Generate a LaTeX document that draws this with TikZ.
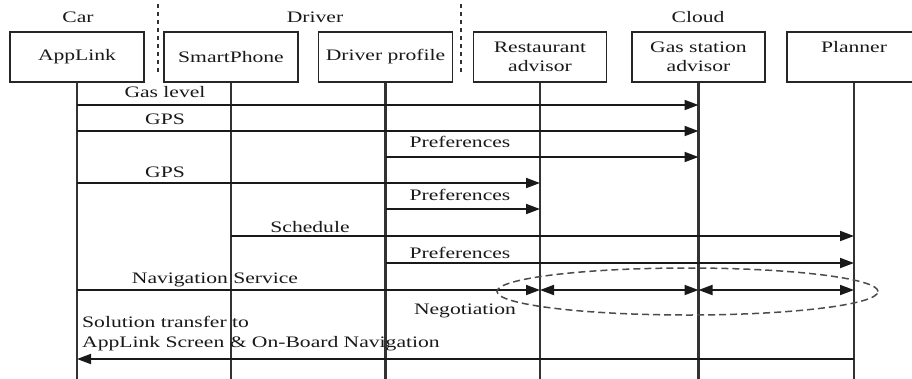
\documentclass[tikz,border=0pt]{standalone}
\usepackage{fontspec}
\setmainfont{Liberation Serif}[FakeStretch=1.35]
\usetikzlibrary{arrows.meta,shapes.geometric}
\begin{document}
\begin{tikzpicture}[x=1pt,y=1pt,
  every node/.style={text=black!90, font=\fontsize{16}{19.5}\selectfont},
  box/.style={draw=black!85, line width=1.6pt, minimum height=50pt, inner sep=0pt, align=center},
  life/.style={draw=black!80, line width=2.1pt},
  msg/.style={draw=black!90, line width=1.8pt, -{Triangle[length=14pt,width=10pt]}},
  dmsg/.style={draw=black!90, line width=1.8pt, {Triangle[length=14pt,width=10pt]}-{Triangle[length=14pt,width=10pt]}},
  sep/.style={draw=black!80, line width=2.4pt, dash pattern=on 4pt off 4pt},
  lbl/.style={anchor=base, inner sep=0pt}]
\clip (0,0) rectangle (912,-378);
\fill[white] (0,0) rectangle (912,-378);

% group labels
\node[lbl] (car) at (78,-22) {Car};
\node[lbl] (drv) at (315,-22) {Driver};
\node[lbl] (cld) at (698,-22) {Cloud};

% separators
\coordinate (s1t) at (158,-4); \coordinate (s1b) at (158,-72);
\coordinate (s2t) at (461,-4); \coordinate (s2b) at (461,-72);
\draw[sep] (s1t) -- (s1b);
\draw[sep] (s2t) -- (s2b);

% boxes
\node[box, minimum width=134pt] (app) at (77,-57) {AppLink};
\node[box, minimum width=134pt] (sp) at (231,-57) {SmartPhone};
\node[box, minimum width=134pt] (dp) at (385.5,-57) {Driver profile};
\node[box, minimum width=133pt] (ra) at (540,-57) {Restaurant\\advisor};
\node[box, minimum width=133pt] (ga) at (698.5,-57) {Gas station\\advisor};
\node[box, minimum width=134pt] (pl) at (854,-57) {Planner\\\phantom{advisor}};

% lifeline ends
\coordinate (appE) at (77,-380);
\coordinate (spE) at (231,-380);
\coordinate (dpE) at (385.5,-380);
\coordinate (raE) at (540,-380);
\coordinate (gaE) at (698.5,-380);
\coordinate (plE) at (854,-380);
\draw[life] (app.south) -- (appE);
\draw[life] (sp.south) -- (spE);
\draw[life] (dp.south) -- (dpE);
\draw[life] (ra.south) -- (raE);
\draw[life] (ga.south) -- (gaE);
\draw[life] (pl.south) -- (plE);

% messages
\node[lbl] (l1) at (165,-97) {Gas level};
\draw[msg] (app |- 0,-105) -- (ga |- 0,-105);
\node[lbl] (l2) at (165,-124) {GPS};
\draw[msg] (app |- 0,-131) -- (ga |- 0,-131);
\node[lbl] (l3) at (460,-147) {Preferences};
\draw[msg] (dp |- 0,-157) -- (ga |- 0,-157);
\node[lbl] (l4) at (165,-177) {GPS};
\draw[msg] (app |- 0,-183) -- (ra |- 0,-183);
\node[lbl] (l5) at (460,-200) {Preferences};
\draw[msg] (dp |- 0,-209) -- (ra |- 0,-209);
\node[lbl] (l6) at (310,-232) {Schedule};
\draw[msg] (sp |- 0,-236) -- (pl |- 0,-236);
\node[lbl] (l7) at (460,-258) {Preferences};
\draw[msg] (dp |- 0,-263) -- (pl |- 0,-263);
\node[lbl] (l8) at (215,-283) {Navigation Service};
\draw[msg] (app |- 0,-290) -- (ra |- 0,-290);
\draw[dmsg] (ra |- 0,-290) -- (ga |- 0,-290);
\draw[dmsg] (ga |- 0,-290) -- (pl |- 0,-290);
\node[draw=black!70, line width=1.5pt, dash pattern=on 7pt off 4pt, ellipse, minimum width=381pt, minimum height=47pt, inner sep=0pt] (neg) at (687.5,-291.5) {};
\node[lbl] (l9) at (465,-314) {Negotiation};
\node[lbl, anchor=base west] (l10) at (82,-327) {Solution transfer to};
\node[lbl, anchor=base west] (l11) at (82,-347) {AppLink Screen \& On-Board Navigation};
\draw[msg] (pl |- 0,-359) -- (app |- 0,-359);
\end{tikzpicture}
\end{document}
